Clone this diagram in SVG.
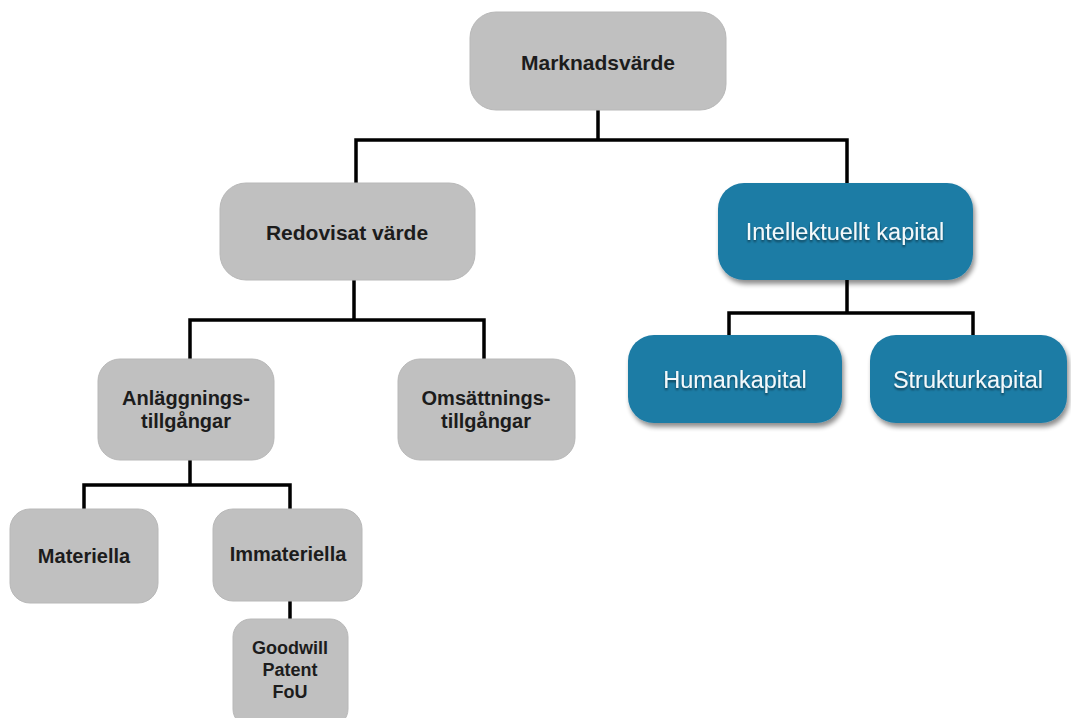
<svg xmlns="http://www.w3.org/2000/svg" width="1071" height="718" viewBox="0 0 1071 718">
<defs>
<filter id="sh" x="-10%" y="-10%" width="125%" height="130%">
<feGaussianBlur in="SourceAlpha" stdDeviation="2.5"/>
<feOffset dx="2" dy="4" result="b"/>
<feComponentTransfer><feFuncA type="linear" slope="0.45"/></feComponentTransfer>
<feMerge><feMergeNode/><feMergeNode in="SourceGraphic"/></feMerge>
</filter>
<filter id="ts" x="-5%" y="-20%" width="110%" height="150%">
<feGaussianBlur in="SourceAlpha" stdDeviation="1"/>
<feOffset dx="0" dy="1.5"/>
<feComponentTransfer><feFuncA type="linear" slope="0.5"/></feComponentTransfer>
<feMerge><feMergeNode/><feMergeNode in="SourceGraphic"/></feMerge>
</filter>
</defs>
<style>
.g{fill:#c0c0c0;stroke:#b8b8b8;stroke-width:1}
.b{fill:#1e7ba5;filter:url(#sh)}
.tg{font-family:"Liberation Sans",Arial,sans-serif;font-weight:bold;fill:#1c1c1c;text-anchor:middle}
.tb{font-family:"Liberation Sans",Arial,sans-serif;fill:#f4f8fa;text-anchor:middle;font-size:23.5px;filter:url(#ts)}
.c{fill:none;stroke:#000;stroke-width:3.5;stroke-linejoin:miter;stroke-linecap:square}
</style>
<rect width="1071" height="718" fill="#ffffff"/>
<g id="connectors">
<path class="c" d="M598 110 V140 M356 183 V140 H847 V183"/>
<path class="c" d="M354 280 V320 M190 359 V320 H484 V359"/>
<path class="c" d="M847 280 V313 M729 335 V313 H973 V335"/>
<path class="c" d="M190 460 V485 M84 509 V485 H290 V509"/>
<path class="c" d="M290 601 V619"/>
</g>
<g id="marknadsvarde">
<rect class="g" x="470" y="12" width="256" height="98" rx="26"/>
<text class="tg" x="598" y="70" font-size="21">Marknadsvärde</text>
</g>
<g id="redovisat">
<rect class="g" x="220" y="183" width="255" height="97" rx="26"/>
<text class="tg" x="347" y="240" font-size="21">Redovisat värde</text>
</g>
<g id="intellektuellt">
<rect class="b" x="718" y="183" width="255" height="97" rx="26"/>
<text class="tb" x="845" y="240">Intellektuellt kapital</text>
</g>
<g id="anlaggnings">
<rect class="g" x="98" y="359" width="176" height="101" rx="22"/>
<text class="tg" x="186" y="405" font-size="20">Anläggnings-</text>
<text class="tg" x="186" y="428" font-size="20">tillgångar</text>
</g>
<g id="omsattnings">
<rect class="g" x="398" y="359" width="177" height="101" rx="22"/>
<text class="tg" x="486" y="405" font-size="20">Omsättnings-</text>
<text class="tg" x="486" y="428" font-size="20">tillgångar</text>
</g>
<g id="humankapital">
<rect class="b" x="628" y="335" width="214" height="88" rx="26"/>
<text class="tb" x="735" y="388">Humankapital</text>
</g>
<g id="strukturkapital">
<rect class="b" x="870" y="335" width="197" height="88" rx="26"/>
<text class="tb" x="968" y="388">Strukturkapital</text>
</g>
<g id="materiella">
<rect class="g" x="10" y="509" width="148" height="94" rx="20"/>
<text class="tg" x="84" y="563" font-size="20">Materiella</text>
</g>
<g id="immateriella">
<rect class="g" x="213" y="509" width="149" height="92" rx="20"/>
<text class="tg" x="288" y="561" font-size="20">Immateriella</text>
</g>
<g id="goodwill">
<rect class="g" x="233" y="619" width="115" height="108" rx="18"/>
<text class="tg" x="290" y="654" font-size="18">Goodwill</text>
<text class="tg" x="290" y="676" font-size="18">Patent</text>
<text class="tg" x="290" y="698" font-size="18">FoU</text>
</g>
</svg>
